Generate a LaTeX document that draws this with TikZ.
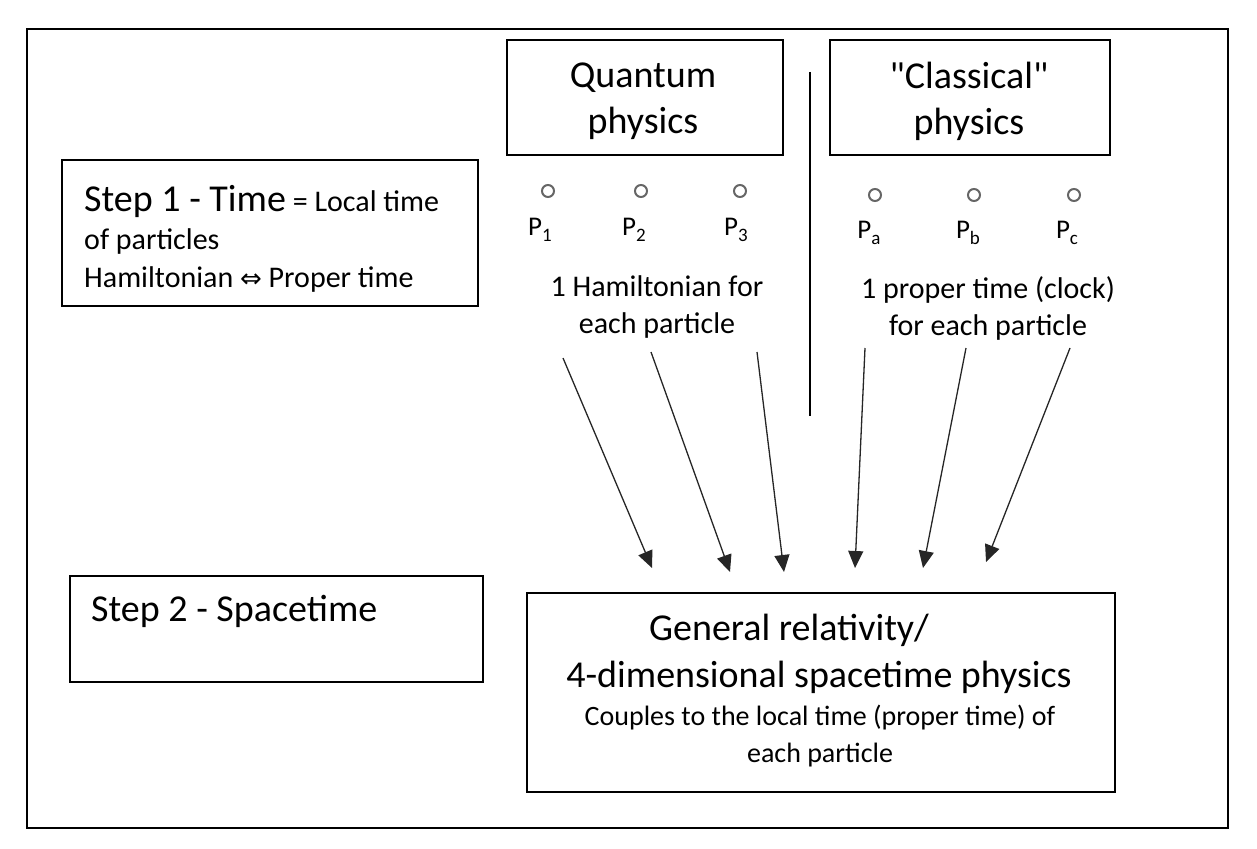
\documentclass[tikz,border=0pt]{standalone}
\usepackage{fontspec}
\setmainfont{Carlito}
\newfontfamily\symfnt{DejaVu Sans}
\newfontfamily\qfnt{Carlito}[Ligatures=TeXOff]
\usetikzlibrary{arrows.meta,positioning}

\newcommand{\psub}[1]{\raisebox{-6pt}{\fontsize{19}{19}\selectfont #1}}

\begin{document}
\begin{tikzpicture}[
  x=1pt, y=-1pt,
  >={Triangle[length=17pt,width=15pt]},
  box/.style={
    rectangle, draw, line width=1.4pt, inner sep=0pt, align=center
  },
  big/.style={font=\fontsize{38}{46}\selectfont},
  mid/.style={font=\fontsize{30}{37}\selectfont, align=center},
  plbl/.style={font=\fontsize{27}{27}\selectfont},
  part/.style={circle, draw=black!60, line width=2pt, minimum size=12pt, inner sep=0pt},
  arw/.style={->, line width=1.3pt, color=black!85}
]
\useasboundingbox (0,0) rectangle (1257,848);

% Frame
\draw[line width=1.5pt] (27,29) rectangle (1228,828);

% Kopf: Quantum / Classical
\node[box, minimum width=276pt, minimum height=115pt]
     (qbox) at (645,97.5) {};
\node[big, align=center] (qtxt) at (643,101) {Quantum\\physics};
\node[box, minimum width=280pt, minimum height=115pt]
     (cbox) at (970,97.5) {};
\node[big, align=center] (ctxt) at (969,101) {{\qfnt "Classical"}\\physics};
\coordinate (sepT) at (810,72);
\coordinate (sepB) at (810,416);
\draw[line width=1.4pt] (sepT) -- (sepB);

% Steps
\node[box, minimum width=416pt, minimum height=146pt]
     (step1) at (270,233) {};
\node[anchor=west, align=left, font=\fontsize{30}{38}\selectfont, inner sep=0pt]
     (step1t) at (84,239)
     {{\fontsize{38}{38}\selectfont Step 1 - Time} = Local time\\
      of particles\\
      Hamiltonian {\symfnt\fontsize{26}{26}\selectfont ⇔} Proper time};
\node[box, minimum width=413pt, minimum height=106pt]
     (step2) at (276.5,629) {};
\node[big, anchor=west, inner sep=0pt] (step2t) at (91,611) {Step 2 - Spacetime};

% Teilchen
\node[part] (c1) at (548,191) {};
\node[part] (c2) at (641,191) {};
\node[part] (c3) at (740,191) {};
\node[part] (ca) at (875,195) {};
\node[part] (cb) at (974,195) {};
\node[part] (cc) at (1074,195) {};

\node[plbl] (p1) at (540,230) {P\psub{1}};
\node[plbl] (p2) at (634,230) {P\psub{2}};
\node[plbl] (p3) at (736,230) {P\psub{3}};
\node[plbl] (pa) at (869,233) {P\psub{a}};
\node[plbl] (pb) at (968,233) {P\psub{b}};
\node[plbl] (pc) at (1067,233) {P\psub{c}};

\node[mid] (ham) at (657,307) {1 Hamiltonian for\\each particle};
\node[mid] (clk) at (988,308) {1 proper time (clock)\\for each particle};

% GR
\node[box, minimum width=588pt, minimum height=199pt]
     (gr) at (821,692.5) {};
\node[big] (grt1) at (789,630) {General relativity/};
\node[big] (grt2) at (819,677) {4-dimensional spacetime physics};
\node[font=\fontsize{28}{37}\selectfont, align=center] (grt3) at (820,736)
     {Couples to the local time (proper time) of\\each particle};

% -- Pfeile --
\coordinate (s1) at (563,358);  \coordinate (e1) at (652,568);
\coordinate (s2) at (651,352);  \coordinate (e2) at (730,572);
\coordinate (s3) at (757,352);  \coordinate (e3) at (784,572);
\coordinate (s4) at (865,348);  \coordinate (e4) at (855,568);
\coordinate (s5) at (966,348);  \coordinate (e5) at (923,568);
\coordinate (s6) at (1070,348); \coordinate (e6) at (986,562);

\draw[arw] (s1) -- (e1);
\draw[arw] (s2) -- (e2);
\draw[arw] (s3) -- (e3);
\draw[arw] (s4) -- (e4);
\draw[arw] (s5) -- (e5);
\draw[arw] (s6) -- (e6);

\end{tikzpicture}
\end{document}
